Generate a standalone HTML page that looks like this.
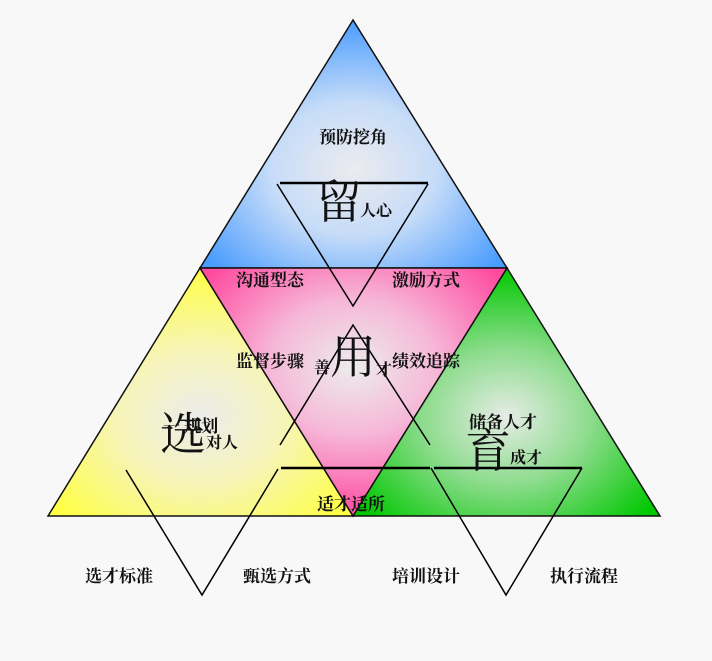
<!DOCTYPE html>
<html><head><meta charset="utf-8"><style>
html,body{margin:0;padding:0;background:#f8f8f8;}
svg text{font-family:"Liberation Serif","Noto Serif CJK SC",serif;fill:#111;}
.l{font-size:17px;font-weight:bold;}
.b{font-size:46px;}
.s{font-size:16px;font-weight:bold;}
</style></head><body>
<svg width="712" height="656" xmlns="http://www.w3.org/2000/svg">
<defs>
<radialGradient id="gb" cx="0.5" cy="0.6" r="0.6"><stop offset="0" stop-color="#ecebef"/><stop offset="0.45" stop-color="#c6dcf8"/><stop offset="1" stop-color="#4a9cff"/></radialGradient>
<radialGradient id="gp" cx="0.5" cy="0.4" r="0.6"><stop offset="0" stop-color="#ececec"/><stop offset="0.45" stop-color="#f6b8d8"/><stop offset="1" stop-color="#ff4aa0"/></radialGradient>
<radialGradient id="gy" cx="0.5" cy="0.6" r="0.6"><stop offset="0" stop-color="#ececec"/><stop offset="0.45" stop-color="#f6f4b8"/><stop offset="1" stop-color="#ffff44"/></radialGradient>
<radialGradient id="gg" cx="0.5" cy="0.6" r="0.6"><stop offset="0" stop-color="#e6ece6"/><stop offset="0.45" stop-color="#8edc8e"/><stop offset="1" stop-color="#00c800"/></radialGradient>
</defs>
<polygon points="353,20 507,268 200,268" fill="url(#gb)" stroke="#111" stroke-width="1.5"/>
<polygon points="200,268 353,516 48,516" fill="url(#gy)" stroke="#111" stroke-width="1.5"/>
<polygon points="507,268 660,516 353,516" fill="url(#gg)" stroke="#111" stroke-width="1.5"/>
<polygon points="200,268 507,268 353,516" fill="url(#gp)" stroke="#111" stroke-width="1.5"/>
<g stroke="#000" fill="none" stroke-width="1.5">
<line x1="280" y1="183" x2="428" y2="183" stroke-width="2.5"/>
<polyline points="277,184 353,306 428,184"/>
<polyline points="280,445 353,325 430,445"/>
<line x1="281" y1="468" x2="430" y2="468" stroke-width="2.5"/>
<line x1="434" y1="468" x2="582" y2="468" stroke-width="2.5"/>
<polyline points="126,470 202,595 278,469"/>
<polyline points="431,468 506,595 582,468"/>
</g>
<text class="l" x="319" y="143">预防挖角</text>
<text class="b" x="316" y="218">留</text>
<text class="s" x="360" y="216">人心</text>
<text class="l" x="236" y="286">沟通型态</text>
<text class="l" x="392" y="286">激励方式</text>
<text class="l" x="236" y="367">监督步骤</text>
<text class="s" x="314" y="373">善</text>
<text class="b" x="330" y="373">用</text>
<text class="s" x="376" y="375">才</text>
<text class="l" x="392" y="367">绩效追踪</text>
<text class="l" x="163" y="432">一 规划</text>
<text class="b" x="160" y="450">选</text>
<text class="s" x="206" y="448">对人</text>
<text class="l" x="469" y="428">储备人才</text>
<text class="b" x="465" y="467">育</text>
<text class="s" x="510" y="463">成才</text>
<text class="l" x="317" y="510">适才适所</text>
<text class="l" x="85" y="582">选才标准</text>
<text class="l" x="243" y="582">甄选方式</text>
<text class="l" x="392" y="582">培训设计</text>
<text class="l" x="550" y="582">执行流程</text>
</svg>
</body></html>
